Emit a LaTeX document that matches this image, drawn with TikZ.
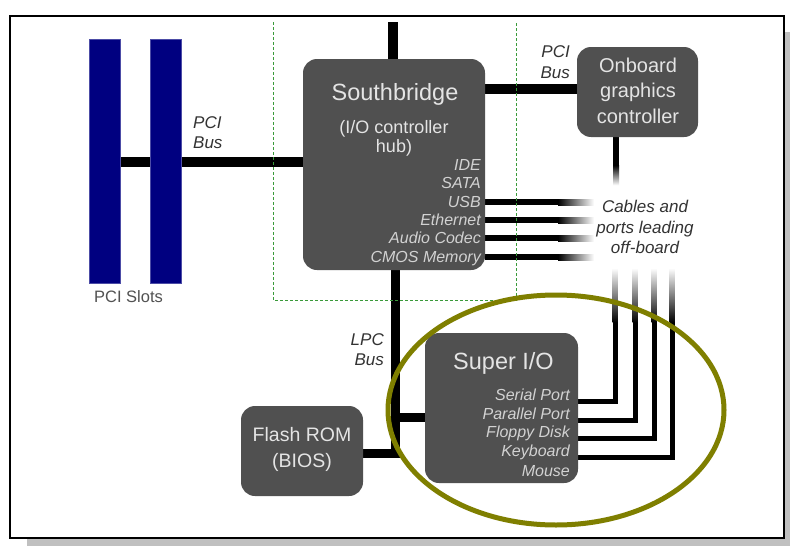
\documentclass[tikz,border=0pt]{standalone}
\usepackage{fontspec}
\setmainfont{Liberation Sans}
\usetikzlibrary{backgrounds,calc}
\definecolor{boxgray}{HTML}{505050}
\definecolor{slotblue}{HTML}{000080}
\definecolor{olivec}{HTML}{7F7F00}
\definecolor{dashgreen}{HTML}{3A9A3A}
\definecolor{shadowgray}{HTML}{C0C0C0}
\definecolor{intext}{HTML}{E4E4E4}
\definecolor{outtext}{HTML}{333333}
\newcommand\fsz[2]{\fontsize{#1}{#2}\selectfont}
\tikzset{
  box/.style={fill=boxgray, rounded corners=14pt, inner sep=0pt},
  slotbar/.style={fill=slotblue, draw=slotblue!70!white, line width=0.6pt, inner sep=0pt},
  bus/.style={line width=10pt, black},
  lpcbus/.style={line width=9pt, black, line join=miter},
  cable/.style={line width=5pt, black, line join=miter},
  intitle/.style={text=intext, font=\fsz{23.5}{27}, inner sep=0pt, anchor=base},
  insub/.style={text=intext, font=\fsz{18}{20}, inner sep=0pt, anchor=base},
  inbox/.style={text=intext, font=\fsz{20}{24}, inner sep=0pt, anchor=base},
  inlbl/.style={text=intext!92!black, font=\itshape\fsz{16}{18}, inner sep=0pt, anchor=base east},
  outlbl/.style={text=outtext, font=\itshape\fsz{17}{20}, inner sep=0pt},
}
\begin{document}
\begin{tikzpicture}[x=1pt,y=-1pt]
\useasboundingbox (0,0) rectangle (790,546);

% boxes
\node[box, minimum width=182pt, minimum height=211pt] (sb) at (394,164.5) {};
\node[box, minimum width=121pt, minimum height=90pt] (gc) at (637.5,92) {};
\node[box, minimum width=153pt, minimum height=150pt] (sio) at (501.5,408) {};
\node[box, minimum width=122pt, minimum height=90pt] (rom) at (302,451) {};
\node[slotbar, minimum width=31pt, minimum height=244pt] (slot1) at (104.5,161) {};
\node[slotbar, minimum width=31pt, minimum height=244pt] (slot2) at (165.5,161) {};

\coordinate (nbtop) at (393,22);
\coordinate (lpcjoint) at (395,453);
\coordinate (siojoint) at (395,417);

\begin{scope}[on background layer]
  \fill[white] (0,0) rectangle (790,546);
  \fill[shadowgray] (27,32) rectangle (790,546);
  \draw[line width=2pt, fill=white] (10,16) rectangle (784,538);
  % buses
  \draw[bus] (nbtop) -- (nbtop |- sb.north);
  \draw[bus] ($(slot1.center)+(0,1)$) -- ($(slot1.center -| sb.west)+(0,1)$);
  \draw[bus] ($(gc.west -| sb.east)+(0,-3)$) -- ($(gc.west)+(0,-3)$);
  \draw[lpcbus] (sb.south -| lpcjoint) -- (lpcjoint) -- (lpcjoint -| rom.east);
  \draw[lpcbus] (siojoint) -- (siojoint -| sio.west);
  % graphics cable
  \fill[black] ($(gc.south)+(-24.5,0)$) rectangle ($(gc.south)+(-18.5,28)$);
  \shade[top color=black, bottom color=white] ($(gc.south)+(-24.5,28)$) rectangle ($(gc.south)+(-18.5,48)$);
  % southbridge cables
  \foreach \yy in {202,220,238,257}{
    \fill[black] (sb.east |- 0,\yy-3) rectangle (558,\yy+3);
    \shade[left color=black, right color=white] (558,\yy-3) rectangle (594,\yy+3);
  }
  % super I/O cables
  \foreach \yy/\xx in {401.5/615,420/635,438/654,457/672}{
    \draw[cable] (sio.east |- 0,\yy) -- (\xx,\yy) -- (\xx,322);
    \shade[top color=white, bottom color=black] (\xx-2.5,268) rectangle (\xx+2.5,322.5);
  }
\end{scope}

% dashed region
\draw[dashgreen, line width=0.9pt, dash pattern=on 3pt off 2pt] (273,22) -- (273,300) -- (516,300) -- (516,22);

% southbridge text
\node[intitle] (sbtitle) at (395,100) {Southbridge};
\node[insub] (sbsub1) at (394,133) {(I/O controller};
\node[insub] (sbsub2) at (394,152) {hub)};
\node[inlbl] (lide) at (481,170) {IDE};
\node[inlbl] (lsata) at (481,188.5) {SATA};
\node[inlbl] (lusb) at (481,207) {USB};
\node[inlbl] (leth) at (481,225) {Ethernet};
\node[inlbl] (laud) at (481,243) {Audio Codec};
\node[inlbl] (lcmos) at (481,262) {CMOS Memory};

% graphics text
\node[inbox] (gc1) at (638,72) {Onboard};
\node[inbox] (gc2) at (638,97) {graphics};
\node[inbox] (gc3) at (638,123) {controller};

% super I/O text
\node[intitle] (siotitle) at (503.5,369) {Super I/O};
\node[inlbl] (lser) at (570,400.5) {Serial Port};
\node[inlbl] (lpar) at (570,419) {Parallel Port};
\node[inlbl] (lflop) at (570,437.5) {Floppy Disk};
\node[inlbl] (lkey) at (570,456.5) {Keyboard};
\node[inlbl] (lmouse) at (570,476) {Mouse};

% flash rom text
\node[inbox, font=\fsz{19.5}{24}] (rom1) at (302,441) {Flash ROM};
\node[inbox, font=\fsz{19.5}{24}] (rom2) at (302,467) {(BIOS)};

% outside labels
\node[outlbl, anchor=base west] (pci1a) at (193,128) {PCI};
\node[outlbl, anchor=base west] (pci1b) at (193,148) {Bus};
\node[outlbl, anchor=base east] (pci2a) at (570,57) {PCI};
\node[outlbl, anchor=base east] (pci2b) at (570,78) {Bus};
\node[outlbl, anchor=base east] (lpca) at (384,345) {LPC};
\node[outlbl, anchor=base east] (lpcb) at (384,365) {Bus};
\node[outlbl, anchor=base] (cab1) at (645,212) {Cables and};
\node[outlbl, anchor=base] (cab2) at (645,233) {ports leading};
\node[outlbl, anchor=base] (cab3) at (645,253) {off-board};
\node[text=outtext!85!white, font=\fsz{16.5}{20}, inner sep=0pt, anchor=base] (slotlbl) at (128.5,302) {PCI Slots};

% highlight ellipse
\draw[olivec, line width=5pt] (556,410) ellipse [x radius=168, y radius=115];
\end{tikzpicture}
\end{document}
